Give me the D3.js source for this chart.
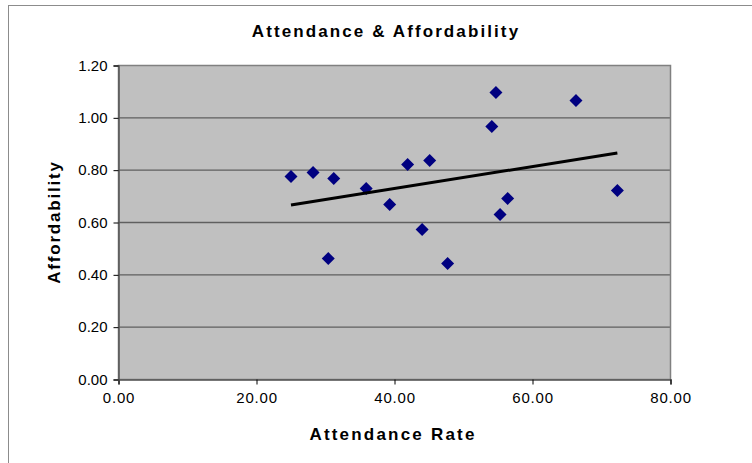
<!DOCTYPE html>
<html><head><meta charset="utf-8">
<script src="https://cdn.jsdelivr.net/npm/d3@7"></script>
<style>
html,body{margin:0;padding:0;background:#fff;}
svg{display:block;font-family:"Liberation Sans",Arial,sans-serif;}
</style></head>
<body>
<svg id="c" width="752" height="463"></svg>
<script>
const attendance = [25.0, 28.2, 31.2, 30.4, 35.9, 39.3, 41.9, 45.1, 44.0, 47.7, 54.1, 54.7, 55.3, 56.4, 66.3, 72.3];
const affordability = [0.776, 0.791, 0.768, 0.462, 0.730, 0.669, 0.822, 0.837, 0.573, 0.443, 0.967, 1.097, 0.631, 0.692, 1.066, 0.722];
const xTicks = [0, 20, 40, 60, 80];
const yTicks = [0, 0.2, 0.4, 0.6, 0.8, 1.0, 1.2];
const title = "Attendance & Affordability";
const xTitle = "Attendance Rate";
const yTitle = "Affordability";

const svg = d3.select("#c");
const L = 118.5, R = 670.5, T = 65.5, B = 379.5;
const x = d3.scaleLinear().domain([0, 80]).range([L, R]);
const y = d3.scaleLinear().domain([0, 1.2]).range([B, T]);

// outer chart border
svg.append("rect").attr("x", 8.5).attr("y", 5.5).attr("width", 760).attr("height", 470)
  .attr("fill", "#fff").attr("stroke", "#8c8c8c").attr("stroke-width", 1);

// plot area
svg.append("rect").attr("x", L).attr("y", T).attr("width", R - L).attr("height", B - T)
  .attr("fill", "#c0c0c0");

// gridlines
svg.append("g").selectAll("line").data(yTicks.filter(d => d > 0 && d < 1.2)).join("line")
  .attr("x1", L).attr("x2", R).attr("y1", d => y(d)).attr("y2", d => y(d))
  .attr("stroke", "#5f5f5f").attr("stroke-width", 1.3);

// plot border
svg.append("rect").attr("x", L).attr("y", T).attr("width", R - L).attr("height", B - T)
  .attr("fill", "none").attr("stroke", "#808080").attr("stroke-width", 1.5);

// axes
const fmt = d3.format(".2f");
const xAxis = svg.append("g").attr("transform", `translate(0,${B})`)
  .call(d3.axisBottom(x).tickValues(xTicks).tickFormat(fmt).tickSize(5).tickPadding(8));
const yAxis = svg.append("g").attr("transform", `translate(${L},0)`)
  .call(d3.axisLeft(y).tickValues(yTicks).tickFormat(fmt).tickSize(5).tickPadding(6));
[xAxis, yAxis].forEach(a => {
  a.select(".domain").attr("stroke", "#555").attr("stroke-width", 1.5);
  a.selectAll(".tick line").attr("stroke", "#000");
  a.selectAll(".tick text").attr("font-size", 15).attr("fill", "#000")
    .attr("font-family", "Liberation Sans, Arial, sans-serif");
});
xAxis.selectAll(".tick text").attr("letter-spacing", 0.8);

// trendline (least-squares fit of the series)
const mx = d3.mean(attendance), my = d3.mean(affordability);
let sxy = 0, sxx = 0;
attendance.forEach((v, i) => { sxy += (v - mx) * (affordability[i] - my); sxx += (v - mx) ** 2; });
const slope = sxy / sxx, icpt = my - slope * mx;
const [x0, x1] = d3.extent(attendance);

// points
const pts = attendance.map((v, i) => ({ x: v, y: affordability[i] }));
svg.append("g").selectAll("path").data(pts).join("path")
  .attr("transform", d => `translate(${x(d.x)},${y(d.y)})`)
  .attr("d", "M0,-6.5L6.5,0L0,6.5L-6.5,0Z")
  .attr("fill", "#000080");

svg.append("line")
  .attr("x1", x(x0)).attr("y1", y(icpt + slope * x0))
  .attr("x2", x(x1)).attr("y2", y(icpt + slope * x1))
  .attr("stroke", "#000").attr("stroke-width", 3);

// titles
svg.append("text").attr("x", 386).attr("y", 37).attr("text-anchor", "middle")
  .attr("font-size", 17).attr("font-weight", "bold").attr("letter-spacing", 2.1)
  .text(title);
svg.append("text").attr("x", 393).attr("y", 440).attr("text-anchor", "middle")
  .attr("font-size", 17).attr("font-weight", "bold").attr("letter-spacing", 2.2)
  .text(xTitle);
svg.append("text").attr("transform", "translate(60,222) rotate(-90)").attr("text-anchor", "middle")
  .attr("font-size", 17).attr("font-weight", "bold").attr("letter-spacing", 1.8)
  .text(yTitle);
</script>
</body></html>
